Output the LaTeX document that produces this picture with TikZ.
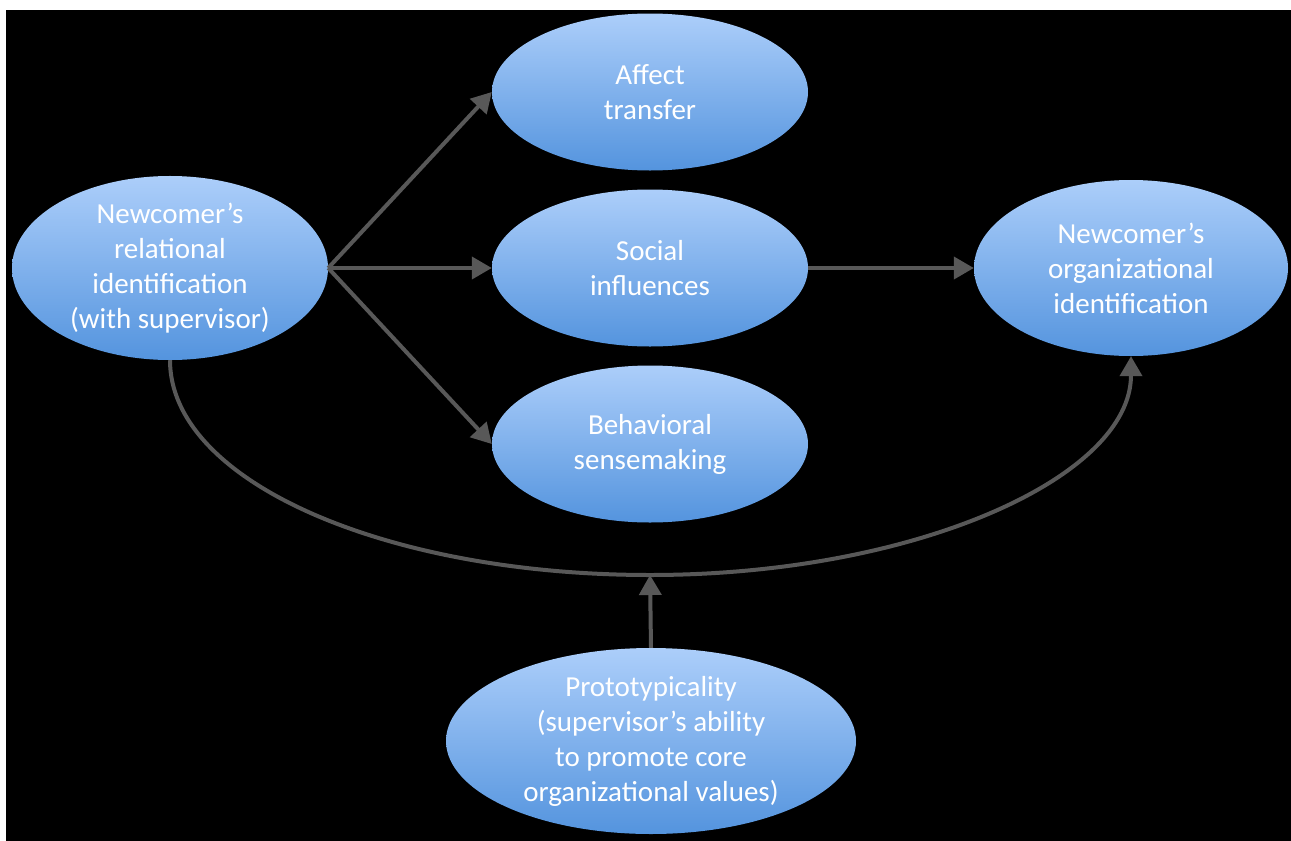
\documentclass[tikz,border=0pt]{standalone}
\usepackage{fontspec}
\setmainfont{Carlito}
\usetikzlibrary{arrows.meta,shapes.geometric,positioning}

\definecolor{bubbletop}{RGB}{172,206,250}
\definecolor{bubblebot}{RGB}{84,148,222}
\definecolor{linkgray}{RGB}{88,88,88}

\begin{document}
\begin{tikzpicture}[x=1pt,y=-1pt,
    bubble/.style={ellipse, inner sep=0pt, top color=bubbletop, bottom color=bubblebot,
        text=white, align=center, font=\fontsize{29}{35}\selectfont},
    link/.style={draw=linkgray, line width=4pt, -{Triangle[length=20pt,width=22pt]}}]
    \useasboundingbox (0,0) rectangle (1291,841);
    \fill[black] (6,10) rectangle (1291,841);
    % the six ellipses
    \node[bubble, minimum width=316pt, minimum height=176pt] (rel) at (170,268)
        {Newcomer’s\\relational\\identification\\(with supervisor)};
    \node[bubble, minimum width=316pt, minimum height=157pt] (affect) at (650,92) {Affect\\transfer};
    \node[bubble, minimum width=316pt, minimum height=157pt] (social) at (650,268) {Social\\influences};
    \node[bubble, minimum width=316pt, minimum height=157pt] (behav) at (650,444) {Behavioral\\sensemaking};
    \node[bubble, minimum width=314pt, minimum height=176pt] (orgid) at (1131,268)
        {Newcomer’s\\organizational\\identification};
    \node[bubble, minimum width=410pt, minimum height=186pt] (proto) at (651,741)
        {Prototypicality\\(supervisor’s ability\\to promote core\\organizational values)};
    \coordinate (meet) at (650,575);
    % arrows
    \draw[link] (rel.east) -- (affect.west);
    \draw[link] (rel.east) -- (social.west);
    \draw[link] (rel.east) -- (behav.west);
    \draw[link] (social.east) -- (orgid.west);
    \draw[link] (rel.south) .. controls +(0,121) and +(-265,0) .. (meet)
        .. controls +(265,0) and +(0,121) .. (orgid.south);
    \draw[link] (proto.north) -- (meet);
\end{tikzpicture}
\end{document}
